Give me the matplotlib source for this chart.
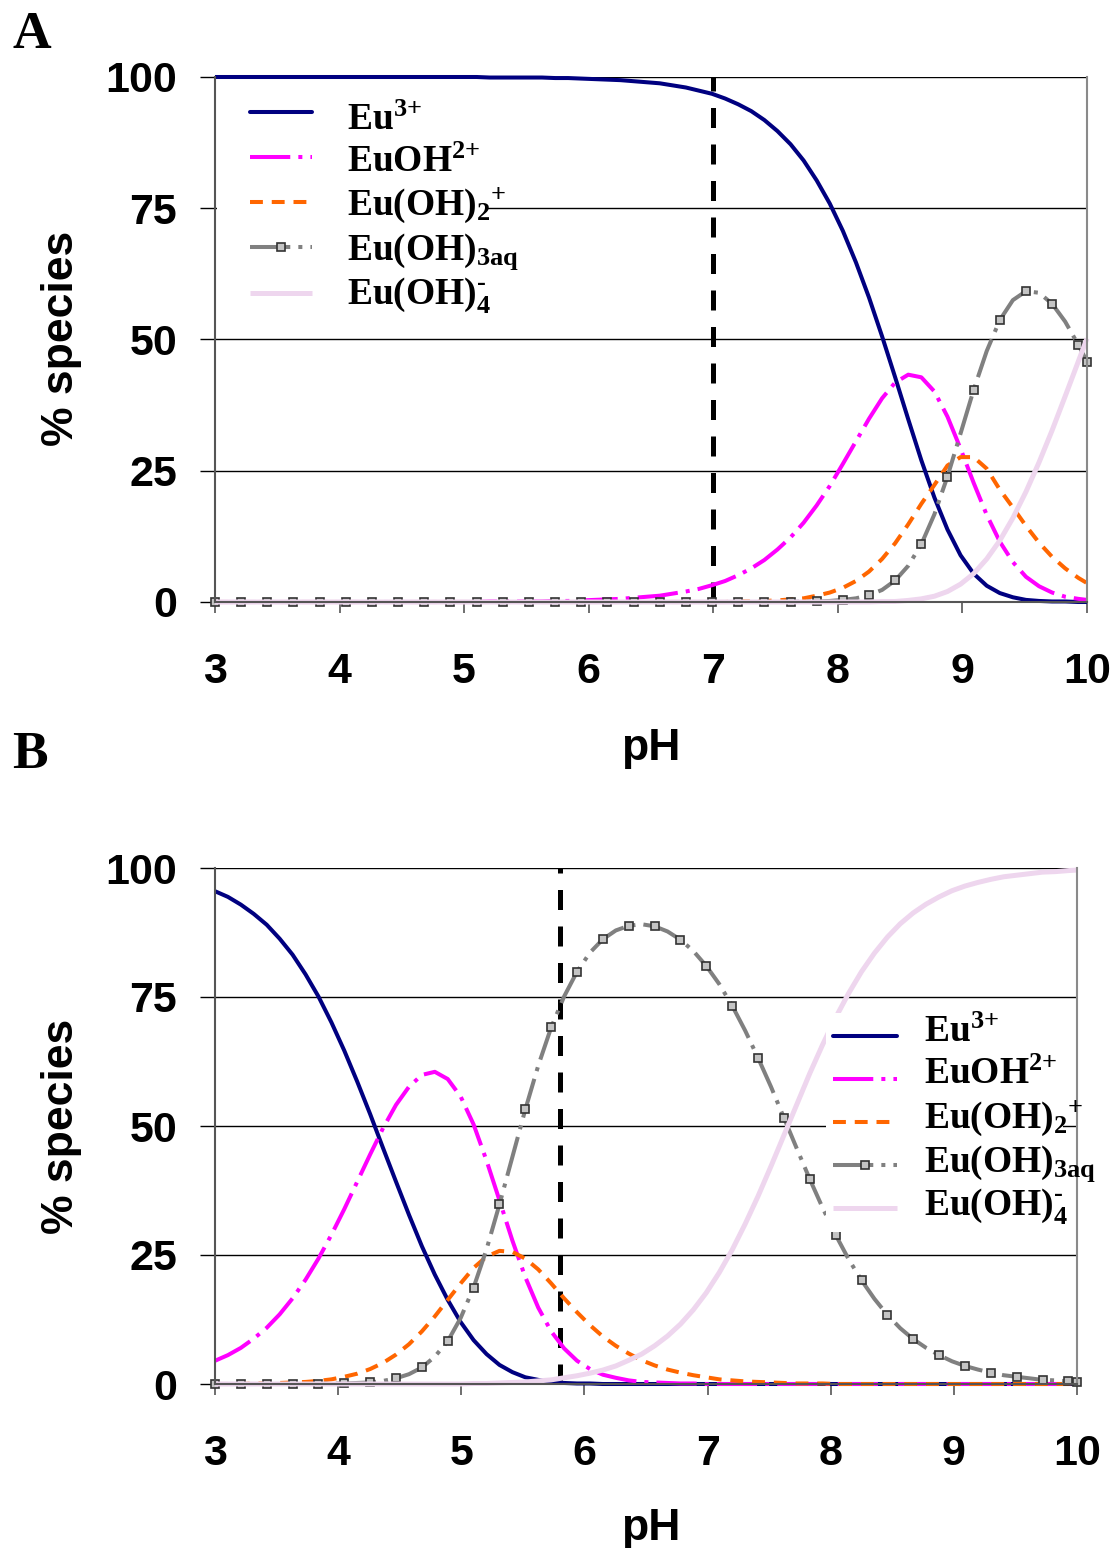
import numpy as np
import matplotlib
matplotlib.use("Agg")
import matplotlib.pyplot as plt
from matplotlib.lines import Line2D
from matplotlib.patches import Rectangle

plt.rcParams["mathtext.fontset"] = "custom"
plt.rcParams["mathtext.rm"] = "Liberation Serif:bold"
plt.rcParams["mathtext.it"] = "Liberation Serif:bold"
plt.rcParams["mathtext.bf"] = "Liberation Serif:bold"
plt.rcParams["mathtext.default"] = "rm"

# ── Datos: % de especies de Eu vs pH ─────────────────────────────────────
# pH de muestreo: pasos de 0.105 desde 3 hasta 9.93, mas el punto final en 10
ph = np.append(3 + 0.105 * np.arange(67), 10.0)

# Panel A
a_eu = [100] * 21 + [99.9] * 5 + [99.8, 99.8, 99.7, 99.6, 99.5, 99.4, 99.2, 99, 98.8, 98.4,
        98, 97.4, 96.8, 95.9, 94.8, 93.5, 91.8, 89.7, 87.2, 84.1, 80.3, 75.9, 70.7, 64.7,
        58, 50.6, 42.8, 34.8, 27, 19.9, 13.8, 8.9, 5.4, 3.1, 1.7, 0.9, 0.4, 0.2, 0.1, 0.1, 0, 0]
a_euoh = [0] * 21 + [0.1] * 5 + [0.2, 0.2, 0.3, 0.4, 0.5, 0.6, 0.8, 1, 1.2, 1.6, 2, 2.5,
          3.2, 4, 5.1, 6.4, 8, 10, 12.3, 15.1, 18.4, 22.1, 26.3, 30.6, 34.9, 38.8, 41.8,
          43.3, 42.8, 40.1, 35.3, 29.2, 22.7, 16.6, 11.5, 7.6, 4.8, 3, 1.8, 1, 0.6, 0.4]
a_euoh2 = [0] * 40 + [0.1, 0.1, 0.2, 0.3, 0.5, 0.7, 1.2, 1.8, 2.7, 4, 5.8, 8.2, 11.2,
           14.8, 18.7, 22.3, 26, 27.6, 27.6, 25.4, 21.4, 18, 14.5, 11.3, 8.6, 6.4, 4.6, 3.6]
a_euoh3 = [0] * 45 + [0.1, 0.1, 0.2, 0.4, 0.7, 1.3, 2.3, 4.1, 6.9, 11, 16.7, 23.9, 32.1,
           40.4, 47.8, 53.7, 57.5, 59.2, 58.9, 56.8, 53.4, 49, 45.8]
a_euoh4 = [0] * 51 + [0.1, 0.1, 0.3, 0.6, 1.1, 2, 3.4, 5.4, 8.2, 11.7, 16, 21, 26.6,
           32.7, 39.2, 45.8, 50.2]

# Panel B
b_eu = [95.5, 94.4, 92.9, 91.1, 89, 86.3, 83.2, 79.4, 75.1, 70.1, 64.6, 58.6, 52.3, 45.7,
        39.2, 32.8, 26.7, 21.2, 16.3, 12, 8.5, 5.8, 3.7, 2.3, 1.3, 0.8, 0.4, 0.2, 0.1,
        0.1] + [0] * 38
b_euoh = [4.5, 5.6, 7, 8.8, 10.9, 13.5, 16.6, 20.2, 24.3, 28.9, 33.9, 39.2, 44.5, 49.6,
          54.1, 57.6, 59.9, 60.5, 59.1, 55.7, 50.3, 43.3, 35.6, 27.8, 20.7, 14.8, 10.2,
          6.9, 4.5, 2.9, 1.8, 1.2, 0.7, 0.4, 0.3, 0.2, 0.1, 0.1] + [0] * 30
b_euoh2 = [0, 0, 0, 0.1, 0.1, 0.2, 0.3, 0.4, 0.6, 0.9, 1.4, 2, 2.9, 4.1, 5.7, 7.7, 10.2,
           13.1, 16.3, 19.5, 22.5, 24.7, 25.8, 25.6, 24.3, 22.2, 19.5, 16.6, 13.9, 11.4,
           9.2, 7.4, 5.9, 4.6, 3.6, 2.8, 2.2, 1.7, 1.3, 0.9, 0.7, 0.5, 0.4, 0.3, 0.2, 0.1,
           0.1, 0.1] + [0] * 20
b_euoh3 = [0] * 9 + [0.1, 0.1, 0.2, 0.3, 0.6, 1.1, 1.9, 3.2, 5.3, 8.3, 12.8, 18.7, 26.1,
           34.8, 44, 53.2, 61.7, 69.1, 75.1, 79.9, 83.6, 86.2, 87.9, 88.8, 89.1, 88.7,
           87.7, 86.1, 83.9, 81, 77.5, 73.3, 68.5, 63.2, 57.6, 51.6, 45.6, 39.7, 34.1,
           28.9, 24.2, 20.1, 16.5, 13.4, 10.8, 8.7, 7, 5.6, 4.4, 3.5, 2.8, 2.2, 1.7, 1.4,
           1.1, 0.8, 0.7, 0.5, 0.4]
b_euoh4 = [0] * 20 + [0.1, 0.1, 0.2, 0.3, 0.4, 0.6, 0.8, 1.2, 1.6, 2.1, 2.7, 3.5, 4.6,
           5.8, 7.4, 9.3, 11.6, 14.4, 17.7, 21.6, 26, 31, 36.4, 42.2, 48.2, 54.2, 60.2,
           65.8, 71, 75.7, 79.9, 83.5, 86.6, 89.2, 91.3, 93, 94.4, 95.6, 96.5, 97.2, 97.8,
           98.3, 98.6, 98.9, 99.2, 99.3, 99.5, 99.6]

ph_limite_a = 7.0
ph_limite_b = 5.8

labels = ["Eu$^{3{+}}$", "EuOH$^{2{+}}$", "Eu(OH)$_{2}{}^{{+}}$", "Eu(OH)$_{3aq}$",
          "Eu(OH)$_{4}^{\u2010}$"]

# ── Figura ───────────────────────────────────────────────────────────────
W, H = 1117, 1548
fig = plt.figure(figsize=(W / 100, H / 100), dpi=100)


def fx(px):
    return px / W


def fy(py):
    return 1 - py / H


styles = [
    dict(color="#000080", lw=2.9),
    dict(color="#ff00ff", lw=2.9, dashes=(10, 2, 1, 2)),
    dict(color="#ff6600", lw=2.9, dashes=(3.2, 2.2)),
    dict(color="#808080", lw=2.9, dashes=(10, 2, 1, 2)),
    dict(color="#eed6ee", lw=3.6),
]
mk = dict(marker="s", ms=5.2, mfc="#c4c4c4", mec="#333333", mew=1.2)


def panel(box, data, vline, leg):
    l, r, t, b = box
    ax = fig.add_axes([fx(l), fy(b), fx(r - l), (b - t) / H])
    ax.set_xlim(3, 10)
    ax.set_ylim(0, 100)
    ax.set_yticks([0, 25, 50, 75, 100])
    ax.set_xticks(range(3, 11))
    ax.yaxis.grid(True, color="black", lw=1.0, zorder=0)
    ax.set_axisbelow(True)
    ax.spines["top"].set_visible(False)
    for s, c in [("left", "#555555"), ("bottom", "#555555"), ("right", "#8a8a8a")]:
        ax.spines[s].set_color(c)
        ax.spines[s].set_linewidth(1.5)
    ax.tick_params(axis="y", length=10.8, width=1, color="black", pad=16.5, labelsize=31)
    ax.tick_params(axis="x", length=8, width=1.2, color="#555555", pad=28, labelsize=31)
    for lab in ax.get_xticklabels() + ax.get_yticklabels():
        lab.set_fontweight("bold")
        lab.set_family("Liberation Sans")

    ax.plot([vline, vline], [0, 100], color="black", lw=3.6, dashes=(4, 3.3),
            zorder=1.5, clip_on=False)
    idx = list(range(0, 67, 2)) + [67]
    for i, (y, st) in enumerate(zip(data, styles)):
        kw = dict(st)
        if i == 3:
            kw.update(mk)
            kw["markevery"] = idx
        ax.plot(ph, y, clip_on=False, zorder=2 + i * 0.1, solid_capstyle="butt", **kw)

    # leyenda dibujada a mano (fondo blanco, sin borde)
    bx0, bx1, by0, by1, hx0, hx1, tx, hy, ty = leg
    fig.add_artist(Rectangle((fx(bx0), fy(by1)), fx(bx1 - bx0), (by1 - by0) / H,
                             transform=fig.transFigure, facecolor="white",
                             edgecolor="none", zorder=5))
    for i, st in enumerate(styles):
        fig.add_artist(Line2D([fx(hx0), fx(hx1)], [fy(hy[i]), fy(hy[i])],
                              transform=fig.transFigure, zorder=6,
                              solid_capstyle="round" if i == 0 else "butt", **st))
        if i == 3:
            fig.add_artist(Line2D([fx(hx0 + 0.5 * (hx1 - hx0))], [fy(hy[i])],
                                  transform=fig.transFigure, zorder=7, ls="none", **mk))
        fig.text(fx(tx), fy(ty[i]), labels[i], fontsize=27, fontweight="bold",
                 family="Liberation Serif", va="baseline", ha="left", zorder=7)
    return ax


axA = panel((215, 1087, 77, 602), [a_eu, a_euoh, a_euoh2, a_euoh3, a_euoh4], ph_limite_a,
            (217, 487, 88, 316, 250, 312, 347,
             [111.7, 156.7, 201.7, 246.7, 292.7], [130, 171.7, 215, 259.3, 304]))
axB = panel((215, 1077, 868, 1384), [b_eu, b_euoh, b_euoh2, b_euoh3, b_euoh4], ph_limite_b,
            (826, 1063, 1013, 1232, 833, 897, 924,
             [1035.7, 1079.3, 1122.3, 1165, 1208.3], [1041.7, 1084, 1128.3, 1171.7, 1215]))

for py, c in [(48, "A"), (768, "B")]:
    fig.text(fx(12), fy(py), c, fontsize=38.5, fontweight="bold", family="Liberation Serif",
             va="baseline", ha="left")
for py in [760, 1540]:
    fig.text(fx(651), fy(py), "pH", fontsize=32, fontweight="bold", family="Liberation Sans",
             va="baseline", ha="center")
for py in [338, 1126]:
    fig.text(fx(62), fy(py), "% species", fontsize=32, fontweight="bold",
             family="Liberation Sans", va="center", ha="center", rotation=90)

fig.savefig("out.png", dpi=100)
plt.close()
